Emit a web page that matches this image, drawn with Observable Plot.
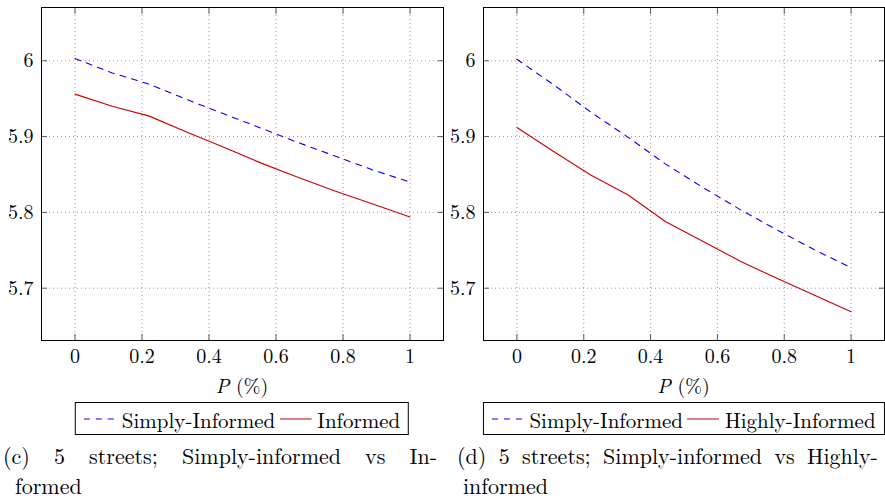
<!DOCTYPE html>
<html>
<head>
<meta charset="utf-8">
<script src="https://cdn.jsdelivr.net/npm/d3@7"></script>
<script src="https://cdn.jsdelivr.net/npm/@observablehq/plot@0.6"></script>
<style>
  html, body { margin: 0; padding: 0; background: #fff; }
  body { width: 885px; height: 499px; overflow: hidden; position: relative;
         font-family: "Latin Modern Roman", "CMU Serif", "Liberation Serif", "Times New Roman", serif; color: #000; }
  .panel { position: absolute; top: 0; }
  .xlabel { position: absolute; top: 373px; font-size: 20px; line-height: 24px; text-align: center; }
  .legend { position: absolute; top: 402px; height: 33px; box-sizing: border-box; border: 1px solid #000;
            display: flex; align-items: center; justify-content: center; font-size: 21px; padding: 0 8px; white-space: nowrap; transform: translateX(-50%); }
  .legend svg { display: block; margin-right: 6px; }
  .legend span { margin-right: 4px; }
  .cap { position: absolute; font-size: 22px; line-height: 24px; white-space: nowrap; }
  .just { text-align: justify; text-align-last: justify; white-space: normal; }
</style>
</head>
<body>
<div id="left" class="panel" style="left:0px;width:450px;"></div>
<div id="right" class="panel" style="left:442px;width:443px;"></div>
<script>
// ---- data ----
const pValues = [0, 0.111, 0.222, 0.333, 0.444, 0.556, 0.667, 0.778, 0.889, 1];
const simplyInformedC = [6.003, 5.984, 5.969, 5.949, 5.930, 5.911, 5.892, 5.874, 5.856, 5.840];
const informedC       = [5.956, 5.940, 5.927, 5.906, 5.886, 5.865, 5.846, 5.828, 5.811, 5.794];
const simplyInformedD = [6.002, 5.968, 5.932, 5.899, 5.864, 5.833, 5.804, 5.777, 5.751, 5.727];
const highlyInformedD = [5.912, 5.880, 5.849, 5.823, 5.788, 5.762, 5.736, 5.713, 5.691, 5.669];
const xTicks = [0, 0.2, 0.4, 0.6, 0.8, 1];
const yTicks = [5.7, 5.8, 5.9, 6];
const xDomain = [-0.1, 1.1];
const yDomain = [5.631, 6.0703];
const seriesNamesC = ["Simply-Informed", "Informed"];
const seriesNamesD = ["Simply-Informed", "Highly-Informed"];
const captionC = ["(c) 5 streets; Simply-informed vs In-", "formed"];
const captionD = ["(d) 5 streets; Simply-informed vs Highly-", "informed"];
const xLabel = ["P", " (%)"];

const BLUE = "#0000ff", RED = "#cc0000";
const FONT = '"Latin Modern Roman", "CMU Serif", "Liberation Serif", "Times New Roman", serif';

function toRows(values) { return pValues.map((p, i) => ({p, v: values[i]})); }

function panel(el, width, marginRight, blueVals, redVals, names, caption, capLeft, capIndent, capWidth, wordSpacing) {
  const marginLeft = 41, marginTop = 7, marginBottom = 32, height = 372;
  const tickStroke = "#5a5a5a";
  const chart = Plot.plot({
    width, height, marginLeft, marginRight, marginTop, marginBottom,
    style: {fontSize: "20px", fontFamily: FONT, background: "transparent", color: "#000"},
    x: {domain: xDomain},
    y: {domain: yDomain},
    marks: [
      Plot.gridX(xTicks, {stroke: "#9a9a9a", strokeOpacity: 1, strokeWidth: 1, strokeDasharray: "1,3"}),
      Plot.gridY(yTicks, {stroke: "#9a9a9a", strokeOpacity: 1, strokeWidth: 1, strokeDasharray: "1,3"}),
      Plot.line(toRows(blueVals), {x: "p", y: "v", stroke: BLUE, strokeWidth: 1.1, strokeDasharray: "6,6"}),
      Plot.line(toRows(redVals), {x: "p", y: "v", stroke: RED, strokeWidth: 1.1}),
      // inward tick marks on all four sides
      Plot.axisX(xTicks, {anchor: "bottom", tickSize: 6, dy: -6, fill: "none", label: null, stroke: tickStroke}),
      Plot.axisX(xTicks, {anchor: "top", tickSize: 6, dy: 6, fill: "none", label: null, stroke: tickStroke}),
      Plot.axisY(yTicks, {anchor: "left", tickSize: 6, dx: 6, fill: "none", label: null, stroke: tickStroke}),
      Plot.axisY(yTicks, {anchor: "right", tickSize: 6, dx: -6, fill: "none", label: null, stroke: tickStroke}),
      // tick labels
      Plot.axisX(xTicks, {anchor: "bottom", tickSize: 0, tickPadding: 8, label: null, tickFormat: d => String(d)}),
      Plot.axisY(yTicks, {anchor: "left", tickSize: 0, tickPadding: 8, label: null, tickFormat: d => String(d)}),
      Plot.frame({stroke: "#000", strokeWidth: 1})
    ]
  });
  el.appendChild(chart);

  const frameW = width - marginLeft - marginRight;
  const cx = marginLeft + frameW / 2;

  const xl = document.createElement("div");
  xl.className = "xlabel";
  xl.style.left = marginLeft + "px";
  xl.style.width = frameW + "px";
  xl.innerHTML = `<i>${xLabel[0]}</i>${xLabel[1]}`;
  el.appendChild(xl);

  const lg = document.createElement("div");
  lg.className = "legend";
  lg.style.left = cx + "px";
  lg.innerHTML =
    `<svg width="32" height="10"><line x1="0" y1="5" x2="32" y2="5" stroke="${BLUE}" stroke-width="1.1" stroke-dasharray="6,6"/></svg>` +
    `<span>${names[0]}</span>` +
    `<svg width="32" height="10"><line x1="0" y1="5" x2="32" y2="5" stroke="${RED}" stroke-width="1.1"/></svg>` +
    `<span style="margin-right:0">${names[1]}</span>`;
  el.appendChild(lg);

  const c1 = document.createElement("div");
  c1.className = "cap" + (capWidth ? " just" : "");
  c1.style.left = capLeft + "px";
  c1.style.top = "443px";
  if (capWidth) c1.style.width = capWidth + "px";
  if (wordSpacing) c1.style.wordSpacing = wordSpacing + "px";
  c1.textContent = caption[0];
  el.appendChild(c1);

  const c2 = document.createElement("div");
  c2.className = "cap";
  c2.style.left = (capLeft + capIndent) + "px";
  c2.style.top = "473px";
  c2.textContent = caption[1];
  el.appendChild(c2);
}

panel(document.getElementById("left"), 450, 7, simplyInformedC, informedC, seriesNamesC, captionC, 3, 12, 434, 0);
panel(document.getElementById("right"), 443, 1, simplyInformedD, highlyInformedD, seriesNamesD, captionD, 15, 6, null, 5);
</script>
</body>
</html>
